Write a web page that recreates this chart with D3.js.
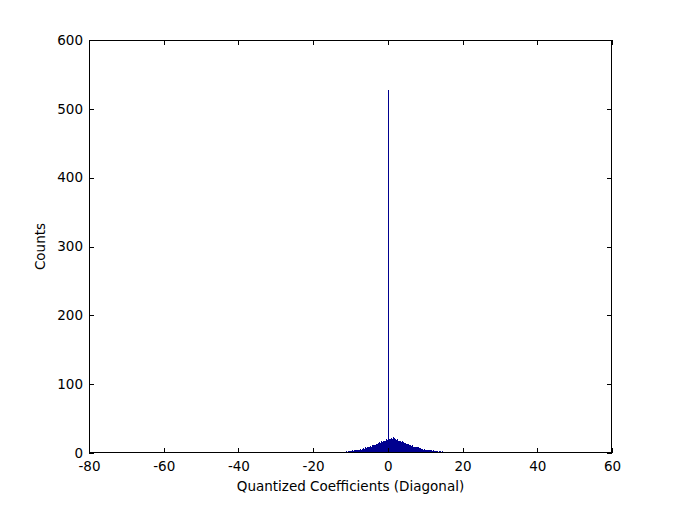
<!DOCTYPE html>
<html>
<head>
<meta charset="utf-8">
<script src="https://cdn.jsdelivr.net/npm/d3@7"></script>
<style>
  body { margin: 0; background: #fff; }
  text { font-family: "DejaVu Sans", sans-serif; font-size: 13.5px; fill: #000; }
</style>
</head>
<body>
<div id="chart"></div>
<script>
// Histogram bins: left edge of the first bin and bin width
const binStart = -21;
const binWidth = 0.25;

// Counts per bin, four bins per unit, from -21 up to 23
const counts = [
  0, 0, 0, 0,       // -21
  3, 0, 0, 0,       // -20
  1, 0, 1, 1,       // -19
  0, 1, 1, 0,       // -18
  1, 1, 1, 1,       // -17
  1, 0, 1, 1,       // -16
  1, 1, 1, 2,       // -15
  1, 2, 1, 2,       // -14
  2, 1, 2, 2,       // -13
  2, 2, 2, 3,       // -12
  2, 3, 3, 3,       // -11
  3, 3, 4, 3,       // -10
  4, 4, 5, 4,       // -9
  5, 5, 6, 5,       // -8
  6, 7, 6, 7,       // -7
  8, 7, 8, 9,       // -6
  9, 10, 9, 11,     // -5
  11, 12, 11, 13,   // -4
  13, 14, 16, 14,   // -3
  15, 17, 16, 18,   // -2
  18, 17, 20, 19,   // -1
  528, 20, 21, 22,  // 0
  21, 23, 20, 22,   // 1
  20, 19, 20, 18,   // 2
  17, 18, 16, 17,   // 3
  16, 14, 15, 13,   // 4
  13, 12, 13, 11,   // 5
  11, 10, 11, 9,    // 6
  9, 9, 8, 8,       // 7
  8, 7, 7, 6,       // 8
  6, 6, 5, 6,       // 9
  5, 5, 4, 5,       // 10
  4, 4, 4, 3,       // 11
  4, 3, 3, 3,       // 12
  3, 3, 2, 3,       // 13
  3, 2, 3, 2,       // 14
  2, 2, 2, 2,       // 15
  2, 2, 1, 2,       // 16
  2, 1, 2, 1,       // 17
  1, 2, 1, 1,       // 18
  1, 1, 2, 1,       // 19
  3, 1, 1, 1,       // 20
  1, 0, 1, 1,       // 21
  0, 2, 0, 0        // 22
];

const xTicks = [-80, -60, -40, -20, 0, 20, 40, 60];
const yTicks = [0, 100, 200, 300, 400, 500, 600];

const width = 677, height = 508;
const margin = {top: 40, right: 65, bottom: 55, left: 89};

const svg = d3.select('#chart')
  .append('svg')
    .attr('width', width)
    .attr('height', height);

const x = d3.scaleLinear().domain([-80, 60]).range([margin.left, width - margin.right]);
const y = d3.scaleLinear().domain([0, 600]).range([height - margin.bottom, margin.top]);

const bins = counts.map((c, i) => ({x0: binStart + i * binWidth, x1: binStart + (i + 1) * binWidth, n: c}));

// Bars
svg.append('g')
  .attr('shape-rendering', 'crispEdges')
  .selectAll('rect')
  .data(bins.filter(d => d.n > 0))
  .join('rect')
    .attr('x', d => x(d.x0))
    .attr('width', d => Math.max(1, x(d.x1) - x(d.x0)))
    .attr('y', d => y(d.n))
    .attr('height', d => y(0) - y(d.n))
    .attr('fill', '#00008f');

// Axes with inward ticks, mirrored on top and right
const tick = 5;
const axisColor = '#000';
const plain = d => String(d);   // hyphen minus, like the original

svg.append('g')
  .attr('transform', `translate(0,${y(0)})`)
  .call(d3.axisBottom(x).tickValues(xTicks).tickSize(-tick).tickPadding(tick + 3).tickFormat(plain))
  .call(g => g.select('.domain').remove());

svg.append('g')
  .attr('transform', `translate(0,${y(600)})`)
  .call(d3.axisTop(x).tickValues(xTicks).tickSize(-tick).tickFormat(''))
  .call(g => g.select('.domain').remove());

svg.append('g')
  .attr('transform', `translate(${x(-80)},0)`)
  .call(d3.axisLeft(y).tickValues(yTicks).tickSize(-tick).tickPadding(tick + 1).tickFormat(plain))
  .call(g => g.select('.domain').remove());

svg.append('g')
  .attr('transform', `translate(${x(60)},0)`)
  .call(d3.axisRight(y).tickValues(yTicks).tickSize(-tick).tickFormat(''))
  .call(g => g.select('.domain').remove());

svg.selectAll('.tick line').attr('stroke', axisColor).attr('shape-rendering', 'crispEdges');
svg.selectAll('.tick text')
  .style('font-family', '"DejaVu Sans", sans-serif')
  .style('font-size', '13.5px')
  .attr('fill', '#000');

// Box
svg.append('rect')
  .attr('x', x(-80) + 0.5)
  .attr('y', y(600) + 0.5)
  .attr('width', x(60) - x(-80) - 1)
  .attr('height', y(0) - y(600) - 1)
  .attr('fill', 'none')
  .attr('stroke', axisColor)
  .attr('shape-rendering', 'crispEdges');

// Axis labels
svg.append('text')
  .attr('x', (x(-80) + x(60)) / 2)
  .attr('y', 491)
  .attr('text-anchor', 'middle')
  .text('Quantized Coefficients (Diagonal)');

svg.append('text')
  .attr('transform', `translate(45,${(y(0) + y(600)) / 2}) rotate(-90)`)
  .attr('text-anchor', 'middle')
  .text('Counts');
</script>
</body>
</html>
